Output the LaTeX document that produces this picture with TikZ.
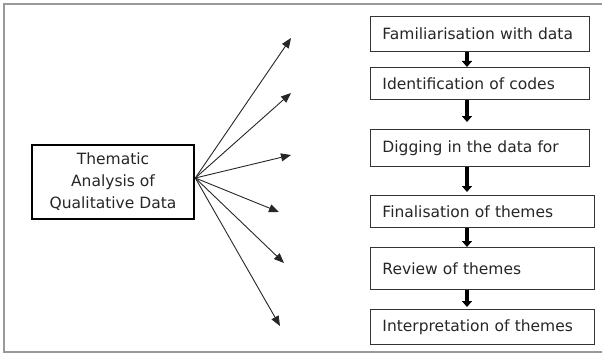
\documentclass[tikz,border=0pt]{standalone}
\usepackage{fontspec}
\setmainfont{DejaVu Sans}
\usetikzlibrary{positioning, arrows.meta}
\tikzset{
  stage/.style={draw=black!80, line width=0.9pt, anchor=north west, inner xsep=12pt, align=left, text=black!85, font=\fontsize{15.5}{18}\selectfont},
  topic/.style={draw=black, line width=2.6pt, align=center, text=black!85, font=\fontsize{15.5}{22}\selectfont},
  fan/.style={line width=0.9pt, black!85, -{Triangle[length=10pt,width=8pt]}},
  flow/.style={line width=3.5pt, black, -{Triangle[length=6pt,width=10pt]}}
}
\begin{document}
\begin{tikzpicture}[x=1pt,y=-1pt]
  \useasboundingbox (0,0) rectangle (602,353);
  % outer frame
  \draw[black!40, line width=1.5pt] (604,4) -- (4,4) -- (4,352) -- (604,352);

  % the topic
  \node[topic, minimum width=162pt, minimum height=74pt] (tam) at (113,182) {Thematic\\Analysis of\\Qualitative Data};
  \coordinate (hub) at ([yshift=4pt]tam.east);
  \foreach \tx/\ty [count=\i] in {291/38, 291/93, 291/155, 279/212, 284/263, 280/326}
    \coordinate (tip\i) at (\tx,\ty);
  \foreach \i in {1,...,6}
    \draw[fan] (hub) -- (tip\i);

  % the phases
  \node[stage, text width=195pt, minimum height=35pt] (fam) at (370,16) {Familiarisation with data};
  \node[stage, text width=195pt, minimum height=32pt] (ide) at (370,67) {Identification of codes};
  \node[stage, text width=195pt, minimum height=37pt] (dig) at (370,129) {Digging in the data for};
  \node[stage, text width=200pt, minimum height=32pt] (fin) at (370,195) {Finalisation of themes};
  \node[stage, text width=200pt, minimum height=42pt] (rev) at (370,247) {Review of themes};
  \node[stage, text width=200pt, minimum height=35pt] (int) at (370,309) {Interpretation of themes};

  \draw[flow] ([xshift=97pt]fam.south west) -- ([xshift=97pt]ide.north west);
  \draw[flow, shorten >=7pt] ([xshift=97pt]ide.south west) -- ([xshift=97pt]dig.north west);
  \draw[flow, shorten >=3pt] ([xshift=97pt]dig.south west) -- ([xshift=97pt]fin.north west);
  \draw[flow] ([xshift=97pt]fin.south west) -- ([xshift=97pt]rev.north west);
  \draw[flow, shorten >=2pt] ([xshift=97pt]rev.south west) -- ([xshift=97pt]int.north west);
\end{tikzpicture}
\end{document}
